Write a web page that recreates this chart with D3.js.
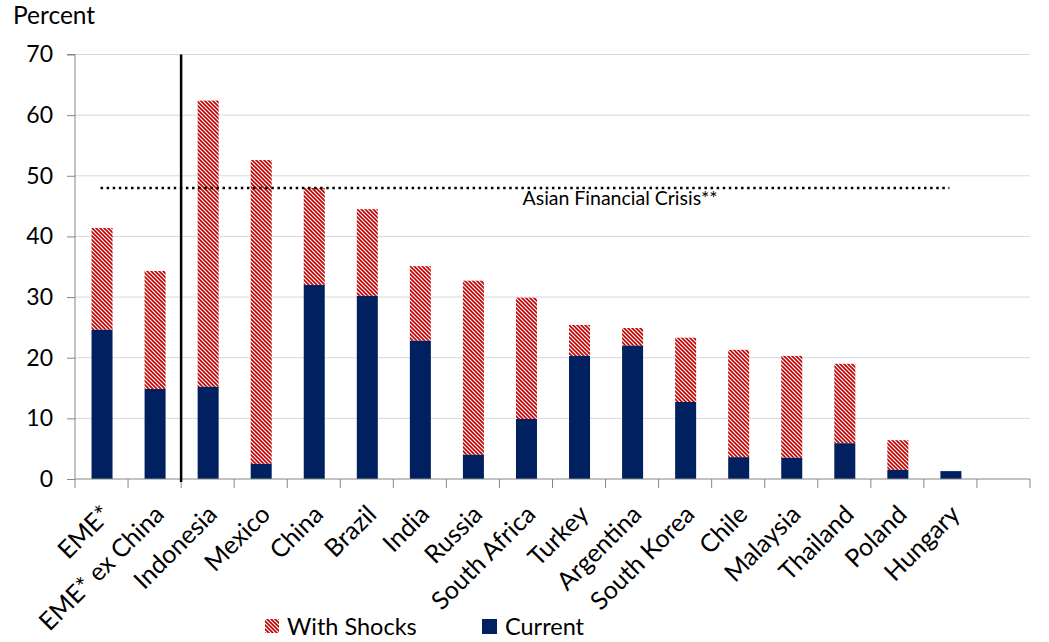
<!DOCTYPE html>
<html><head><meta charset="utf-8">
<script src="https://cdn.jsdelivr.net/npm/d3@7"></script>
<style>body{margin:0;background:#fff}svg{display:block}text{font-family:Lato,"Open Sans",sans-serif}</style>
</head><body><svg id="c" width="1049" height="642"></svg>
<script>
const categories = ["EME*","EME* ex China","Indonesia","Mexico","China","Brazil","India","Russia","South Africa","Turkey","Argentina","South Korea","Chile","Malaysia","Thailand","Poland","Hungary",""];
const withShocks = [41.4,34.3,62.4,52.6,48.0,44.5,35.1,32.7,29.9,25.4,24.9,23.3,21.3,20.3,19.0,6.4,1.3,null];
const current = [24.6,14.85,15.2,2.5,32.0,30.2,22.8,4.0,9.9,20.3,22.0,12.7,3.6,3.5,5.9,1.5,1.3,null];
const yTicks = [0,10,20,30,40,50,60,70];
const crisisLevel = 48.0;
const crisisLabel = "Asian Financial Crisis**";
const legendItems = ["With Shocks","Current"];

const svg = d3.select("#c");
const L=75, R=1030, T=54.5, B=479;
const x = d3.scaleBand().domain(d3.range(categories.length)).range([L,R]).paddingInner(0).paddingOuter(0);
const y = d3.scaleLinear().domain([0,70]).range([B,T]);
const barW = 21;

const defs = svg.append("defs");
const pat = defs.append("pattern").attr("id","hatch").attr("patternUnits","userSpaceOnUse").attr("width",4).attr("height",4);
pat.append("rect").attr("width",4).attr("height",4).attr("fill","#fff");
pat.append("path").attr("d","M-1,3 l2,2 M0,0 l4,4 M3,-1 l2,2").attr("stroke","#C00000").attr("stroke-width",1.6);

// gridlines
svg.append("g").selectAll("line").data(yTicks.filter(d=>d>0)).join("line")
  .attr("x1",L).attr("x2",R).attr("y1",d=>y(d)).attr("y2",d=>y(d))
  .attr("stroke","#D9D9D9").attr("stroke-width",1);

// bars
const idx = d3.range(categories.length).filter(i=>current[i]!=null);
svg.append("g").selectAll("rect").data(idx).join("rect")
  .attr("x",i=>x(i)+x.bandwidth()/2-barW/2+0.5).attr("width",barW)
  .attr("y",i=>y(withShocks[i])).attr("height",i=>y(current[i])-y(withShocks[i]))
  .attr("fill","url(#hatch)");
svg.append("g").selectAll("rect").data(idx).join("rect")
  .attr("x",i=>x(i)+x.bandwidth()/2-barW/2+0.5).attr("width",barW)
  .attr("y",i=>y(current[i])).attr("height",i=>B-y(current[i]))
  .attr("fill","#002060");

// y axis
const ya = svg.append("g").attr("transform",`translate(${L},0)`)
  .call(d3.axisLeft(y).tickValues(yTicks).tickSize(8).tickPadding(14));
ya.select(".domain").attr("stroke","#868686").attr("d",`M-8,${T}H0V${B}`);
ya.selectAll(".tick line").attr("stroke","#868686");
ya.selectAll("text").attr("font-size",23).attr("fill","#000").attr("font-family","Lato,sans-serif");

// x axis
svg.append("line").attr("x1",L).attr("x2",R).attr("y1",B).attr("y2",B).attr("stroke","#868686");
const bounds = d3.range(categories.length+1).map(i=> i<categories.length ? x(i) : R);
svg.append("g").selectAll("line").data(bounds).join("line")
  .attr("x1",d=>d).attr("x2",d=>d).attr("y1",B).attr("y2",B+9).attr("stroke","#868686");

svg.append("g").selectAll("text").data(categories).join("text")
  .attr("transform",(d,i)=>`translate(${x(i)+x.bandwidth()/2+11},${B+37}) rotate(-45)`)
  .attr("text-anchor","end").attr("font-size",25).attr("fill","#000").text(d=>d);

// vertical separator
svg.append("line").attr("x1",x(2)).attr("x2",x(2)).attr("y1",T).attr("y2",B+3)
  .attr("stroke","#000").attr("stroke-width",2.5);

// crisis line
svg.append("line").attr("x1",x(0)+x.bandwidth()/2-1).attr("x2",x(16)+x.bandwidth()/2-1)
  .attr("y1",y(crisisLevel)).attr("y2",y(crisisLevel))
  .attr("stroke","#000").attr("stroke-width",2.5).attr("stroke-dasharray","2.5,3.6");
svg.append("text").attr("x",620).attr("y",y(crisisLevel)+17).attr("text-anchor","middle")
  .attr("font-size",19.5).attr("fill","#000").text(crisisLabel);

// title
svg.append("text").attr("x",13).attr("y",24).attr("font-size",24.5).attr("fill","#000").text("Percent");

// legend
const lg = svg.append("g");
lg.append("rect").attr("x",265).attr("y",619).attr("width",14).attr("height",14).attr("fill","url(#hatch)");
lg.append("text").attr("x",287).attr("y",635).attr("font-size",23.5).text(legendItems[0]);
lg.append("rect").attr("x",482).attr("y",619).attr("width",15).attr("height",15).attr("fill","#002060");
lg.append("text").attr("x",505).attr("y",635).attr("font-size",23.5).text(legendItems[1]);
</script></body></html>
